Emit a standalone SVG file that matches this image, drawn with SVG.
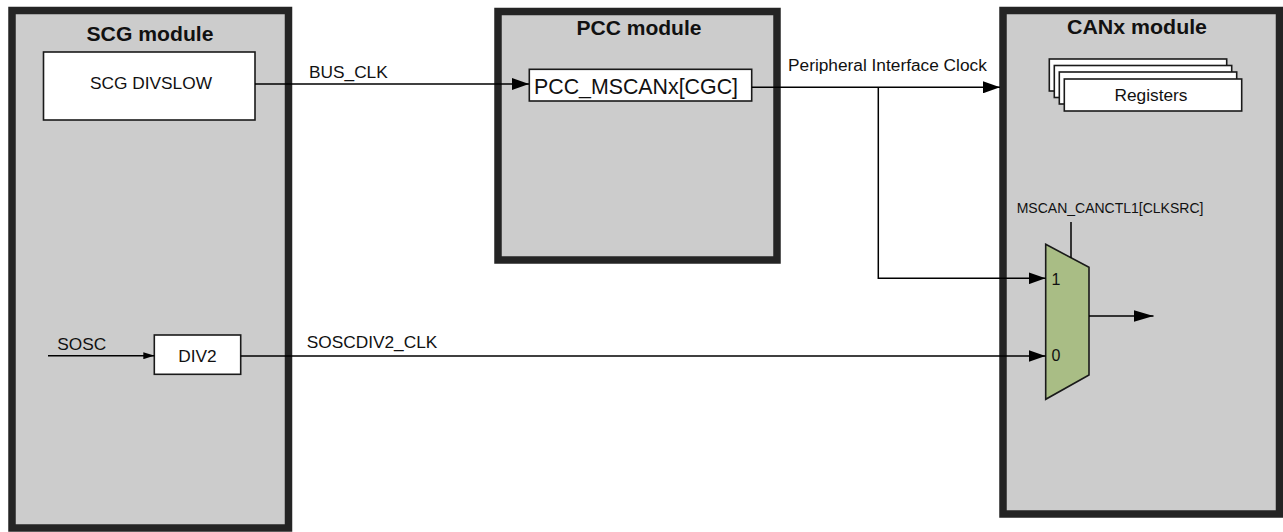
<svg xmlns="http://www.w3.org/2000/svg" width="1283" height="532" viewBox="0 0 1283 532">
<defs>
<style>
.mod{fill:#cccccc;stroke:#242424;stroke-width:7.5}
.box{fill:#ffffff;stroke:#1a1a1a;stroke-width:1.6}
.t{font-family:"Liberation Sans",Arial,Helvetica,sans-serif;fill:#111111}
.title{font-weight:bold;font-size:19.5px}
.lab{font-size:17.3px}
.ln{fill:none;stroke:#000000;stroke-width:1.5}
</style>
<marker id="arr" markerUnits="userSpaceOnUse" markerWidth="17" markerHeight="12" refX="17" refY="6" orient="auto"><path d="M0,0 L17,6 L0,12 Z" fill="#000"/></marker>
<marker id="arrL" markerUnits="userSpaceOnUse" markerWidth="20" markerHeight="12" refX="20" refY="6" orient="auto"><path d="M0,0 L20,6 L0,12 Z" fill="#000"/></marker>
<marker id="arrS" markerUnits="userSpaceOnUse" markerWidth="11" markerHeight="7" refX="11" refY="3.5" orient="auto"><path d="M0,0 L11,3.5 L0,7 Z" fill="#000"/></marker>
</defs>
<rect width="1283" height="532" fill="#ffffff"/>

<g id="scg">
<rect class="mod" x="12" y="10.5" width="276.5" height="517.5"/>
<text class="t title" x="86.5" y="40.7" textLength="127" lengthAdjust="spacingAndGlyphs">SCG module</text>
</g>
<g id="scg-divslow">
<rect class="box" x="43.5" y="52" width="211.5" height="68" stroke-width="2"/>
<text class="t lab" x="151" y="89.3" text-anchor="middle">SCG DIVSLOW</text>
</g>
<g id="div2">
<rect class="box" x="154.3" y="335" width="86.4" height="39.3"/>
<text class="t lab" x="197.5" y="361.7" text-anchor="middle">DIV2</text>
</g>

<g id="pcc">
<rect class="mod" x="498" y="11.5" width="279" height="248.5"/>
<text class="t title" x="576.5" y="35" textLength="125" lengthAdjust="spacingAndGlyphs">PCC module</text>
</g>
<g id="pcc-mscan">
<rect class="box" x="529.3" y="69.3" width="222.4" height="31.7"/>
<text class="t" x="534" y="94.3" font-size="21.4px" textLength="204" lengthAdjust="spacingAndGlyphs">PCC_MSCANx[CGC]</text>
</g>

<g id="canx">
<rect class="mod" x="1003" y="10.5" width="276.5" height="503.5"/>
<text class="t title" x="1067" y="34.3" textLength="140" lengthAdjust="spacingAndGlyphs">CANx module</text>
</g>
<g id="registers">
<rect class="box" x="1049.3" y="59" width="177.4" height="32"/>
<rect class="box" x="1054.3" y="65.5" width="177.4" height="32"/>
<rect class="box" x="1059.3" y="72" width="177.4" height="32"/>
<rect class="box" x="1064.3" y="79" width="177.4" height="32"/>
<text class="t lab" x="1151" y="100.5" text-anchor="middle">Registers</text>
</g>
<g id="mux">
<polygon points="1045.7,244.3 1089,267.3 1089,375 1045.7,399.3" fill="#a9bd85" stroke="#1a1a1a" stroke-width="1.6"/>
<text class="t" x="1051.5" y="285" font-size="16px">1</text>
<text class="t" x="1051.5" y="361" font-size="16px">0</text>
</g>

<g id="connectors">
<line class="ln" x1="255" y1="84" x2="529" y2="84" marker-end="url(#arr)"/>
<text class="t lab" x="309" y="77.7">BUS_CLK</text>
<line class="ln" x1="751.7" y1="87.3" x2="1000" y2="87.3" marker-end="url(#arr)"/>
<text class="t lab" x="788" y="70.7">Peripheral Interface Clock</text>
<polyline class="ln" points="878.3,87.3 878.3,278.3 1045.5,278.3" marker-end="url(#arr)"/>
<line class="ln" x1="48" y1="355.7" x2="154.3" y2="355.7" marker-end="url(#arrS)"/>
<text class="t lab" x="57.3" y="350">SOSC</text>
<line class="ln" x1="240.7" y1="356" x2="1045.5" y2="356" marker-end="url(#arr)"/>
<text class="t lab" x="306.7" y="347.7">SOSCDIV2_CLK</text>
<line class="ln" x1="1071" y1="222" x2="1071" y2="257.7"/>
<text class="t" x="1016.7" y="212.7" font-size="14px">MSCAN_CANCTL1[CLKSRC]</text>
<line class="ln" x1="1089" y1="316" x2="1153.5" y2="316" marker-end="url(#arrL)"/>
</g>
</svg>
